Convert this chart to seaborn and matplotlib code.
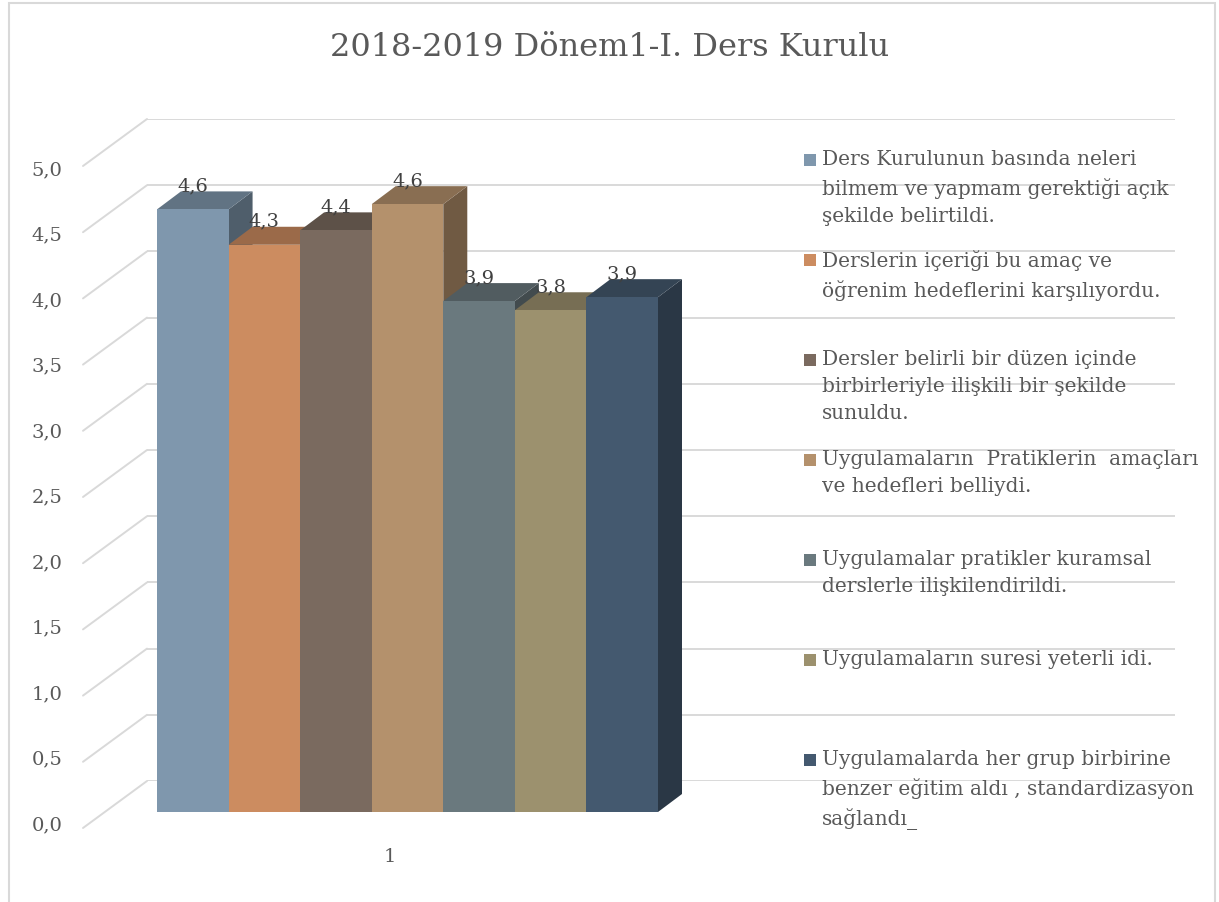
import pandas as pd
import numpy as np
import matplotlib
matplotlib.use("Agg")
import matplotlib.pyplot as plt
import matplotlib.colors as mcolors
from matplotlib.patches import Polygon, Rectangle
from matplotlib.lines import Line2D
from matplotlib.transforms import ScaledTranslation
import seaborn as sns

# --- data ---
TITLE = "2018-2019 Dönem1-I. Ders Kurulu"
items = [
    "Ders Kurulunun basında neleri\nbilmem ve yapmam gerektiği açık\nşekilde belirtildi.",
    "Derslerin içeriği bu amaç ve\nöğrenim hedeflerini karşılıyordu.",
    "Dersler belirli bir düzen içinde\nbirbirleriyle ilişkili bir şekilde\nsunuldu.",
    "Uygulamaların  Pratiklerin  amaçları\nve hedefleri belliydi.",
    "Uygulamalar pratikler kuramsal\nderslerle ilişkilendirildi.",
    "Uygulamaların suresi yeterli idi.",
    "Uygulamalarda her grup birbirine\nbenzer eğitim aldı , standardizasyon\nsağlandı_",
]
scores = [4.60, 4.33, 4.44, 4.64, 3.90, 3.83, 3.93]
colors = ["#7F97AD", "#CC8C60", "#7A6A5F", "#B4916C", "#6A797E", "#9C916E", "#44596F"]
yticks = [0.0, 0.5, 1.0, 1.5, 2.0, 2.5, 3.0, 3.5, 4.0, 4.5, 5.0]
xlabel = "1"

W, H = 1219, 902
DEPTH_X, DEPTH_Y = 24, 18   # px, pseudo 3d depth of the bars
GRID = "#D9D9D9"
TXT = "#595959"

sns.set_theme(style="white")
plt.rcParams["font.family"] = ["DejaVu Serif", "DejaVu Sans"]

fig = plt.figure(figsize=(W / 100, H / 100), dpi=100)

# back wall with the grid
ax_back = fig.add_axes([147 / W, (H - 781) / H, 1028 / W, 662 / H])
ax_back.set_ylim(0, 5)
ax_back.set_xlim(0, 1)
ax_back.set_yticks(yticks)
ax_back.yaxis.grid(True, color=GRID, lw=1.4)
ax_back.tick_params(left=False, bottom=False, labelleft=False, labelbottom=False)
sns.despine(ax=ax_back, left=True, bottom=True)
ax_back.patch.set_alpha(0)

# diagonal side-wall lines going to each gridline
fig.canvas.draw()
xb = ax_back.transAxes.transform((0, 0))[0]
for v in yticks:
    yb = ax_back.transData.transform((0, v))[1]
    fig.add_artist(Line2D([(xb - 64) / W, xb / W], [(yb - 47) / H, yb / H],
                          transform=fig.transFigure, color=GRID, lw=1.4))

# front plane with the bars
ax = fig.add_axes([157 / W, (H - 812) / H, 501 / W, 655 / H])
df = pd.DataFrame({"madde": items, "puan": scores})
sns.barplot(data=df, x="madde", y="puan", hue="madde", palette=colors,
            width=1.0, saturation=1, legend=False, ax=ax)
ax.set_xlim(-0.5, len(items) - 0.5)
ax.set_ylim(0, 5)
ax.patch.set_alpha(0)
sns.despine(ax=ax, left=True, bottom=True)
ax.set_xlabel("")
ax.set_ylabel("")
ax.set_xticks([])
ax.set_yticks(yticks)
ax.set_yticklabels([f"{t:.1f}".replace(".", ",") for t in yticks])
ax.tick_params(axis="y", length=0, pad=68, labelsize=14, labelcolor=TXT)
for lab in ax.get_yticklabels():
    lab.set_transform(lab.get_transform() + ScaledTranslation(0, -11 / 100, fig.dpi_scale_trans))

bbox = ax.get_window_extent()
ddx = DEPTH_X / (bbox.width / len(items))
ddy = DEPTH_Y / (bbox.height / 5)

for i, (p, c, v) in enumerate(zip(ax.patches, colors, scores)):
    x0, x1, h = p.get_x(), p.get_x() + p.get_width(), p.get_height()
    z = 3 + i
    p.set_zorder(z + 0.2)
    p.set_edgecolor("none")
    rgb = np.array(mcolors.to_rgb(c))
    top = Polygon([(x0, h), (x1, h), (x1 + ddx, h + ddy), (x0 + ddx, h + ddy)],
                  closed=True, fc=rgb * 0.76, ec="none", zorder=z, clip_on=False)
    side = Polygon([(x1, 0), (x1 + ddx, ddy), (x1 + ddx, h + ddy), (x1, h)],
                   closed=True, fc=rgb * 0.62, ec="none", zorder=z, clip_on=False)
    ax.add_patch(side)
    ax.add_patch(top)
    ax.text((x0 + x1) / 2, h + ddy, f"{v:.1f}".replace(".", ","), ha="center",
            va="baseline", fontsize=14, color="#404040", zorder=20, clip_on=False)

# category label
fig.text(390 / W, 1 - 857 / H, xlabel, ha="center", va="center", fontsize=14, color=TXT)

# title
fig.text(610 / W, 1 - 47 / H, TITLE, ha="center", va="center", fontsize=23, color=TXT)

# legend drawn entry by entry
for i, (txt, c) in enumerate(zip(items, colors)):
    yc = 160 + 100 * i
    fig.add_artist(Rectangle((804 / W, 1 - (yc + 6) / H), 12 / W, 12 / H,
                             transform=fig.transFigure, fc=c, ec="none"))
    fig.text(822 / W, 1 - (yc - 10) / H, txt, ha="left", va="top", fontsize=14.5,
             color=TXT, linespacing=1.54)

# outer frame
fig.add_artist(Rectangle((9 / W, -0.05), 1206 / W, 1.05 - 3 / H, transform=fig.transFigure,
                         fill=False, ec=GRID, lw=1.5))

fig.savefig("out.png", dpi=100)
